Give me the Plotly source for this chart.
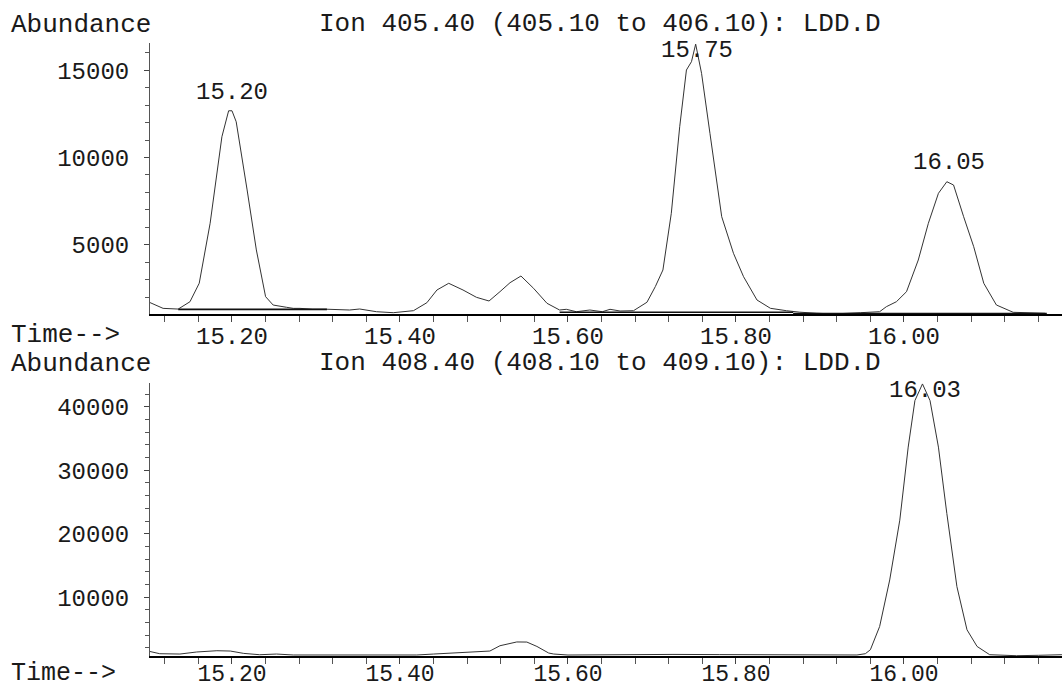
import plotly.graph_objects as go

# ---- Data ----
top_time = [15.102, 15.118, 15.136, 15.150, 15.161, 15.174, 15.188, 15.196, 15.200, 15.205,
            15.218, 15.229, 15.240, 15.249, 15.265, 15.273, 15.281, 15.296, 15.313, 15.340,
            15.352, 15.372, 15.392, 15.416, 15.432, 15.444, 15.458, 15.475, 15.491, 15.506,
            15.519, 15.531, 15.544, 15.559, 15.575, 15.590, 15.598, 15.610, 15.626, 15.641,
            15.650, 15.662, 15.678, 15.694, 15.704, 15.713, 15.723, 15.733, 15.741, 15.747,
            15.752, 15.759, 15.769, 15.783, 15.797, 15.809, 15.825, 15.841, 15.860, 15.876,
            15.896, 15.916, 15.948, 15.971, 15.979, 15.991, 16.003, 16.017, 16.029, 16.041,
            16.051, 16.059, 16.071, 16.083, 16.095, 16.110, 16.130, 16.154, 16.168]
top_abund = [1690, 1350, 1310, 1730, 2790, 6230, 11190, 12680, 12680, 12050,
             8140, 4700, 2020, 1540, 1410, 1350, 1350, 1300, 1300, 1256,
             1313, 1158, 1101, 1216, 1674, 2403, 2787, 2403, 1984, 1772,
             2305, 2821, 3205, 2500, 1640, 1256, 1296, 1158, 1256, 1158,
             1296, 1198, 1216, 1700, 2600, 3549, 6800, 11766, 15017, 15494,
             16500, 14828, 11388, 6606, 4507, 3165, 1829, 1353, 1216, 1130,
             1070, 1030, 1101, 1158, 1445, 1732, 2305, 4123, 6227, 7947,
             8612, 8423, 6606, 4886, 2787, 1543, 1124, 1067, 1067]

# integration baselines drawn under the peaks of the upper trace (start, end, level)
top_base_start = [15.136, 15.590, 15.868]
top_base_end = [15.313, 15.868, 16.170]
top_base_level = [1290, 1130, 1050]

bot_time = [15.102, 15.114, 15.138, 15.158, 15.182, 15.198, 15.214, 15.233, 15.253, 15.273,
            15.300, 15.340, 15.380, 15.420, 15.440, 15.460, 15.483, 15.507, 15.519, 15.539,
            15.551, 15.563, 15.577, 15.583, 15.600, 15.650, 15.725, 15.780, 15.844, 15.924,
            15.944, 15.954, 15.960, 15.971, 15.983, 15.995, 16.005, 16.013, 16.022, 16.031,
            16.041, 16.051, 16.063, 16.075, 16.087, 16.102, 16.134, 16.160, 16.188]
bot_abund = [1460, 1100, 1050, 1370, 1570, 1520, 1150, 940, 1050, 900,
             900, 900, 900, 900, 1050, 1210, 1410, 1520, 2355, 2950,
             2936, 2245, 1209, 1052, 895, 950, 989, 960, 942, 989,
             900, 1099, 1727, 5385, 12717, 22137, 33644, 40977, 43600, 40977,
             33644, 23189, 11665, 4867, 2245, 942, 785, 850, 942]

top_peak_times = [15.20, 15.753, 16.054]
top_peak_labels = ["15.20", "15.75", "16.05"]
top_peak_label_y = [13700, 16160, 9690]
bot_peak_times = [16.025]
bot_peak_labels = ["16.03"]
bot_peak_label_y = [42550]

top_title = "Ion 405.40 (405.10 to 406.10): LDD.D"
bot_title = "Ion 408.40 (408.10 to 409.10): LDD.D"

FONT = "Liberation Mono, Courier New, monospace"
INK = "#1a1a1a"

fig = go.Figure()
fig.add_trace(go.Scatter(x=top_time, y=top_abund, mode="lines",
                         line=dict(color="#333", width=1), xaxis="x", yaxis="y",
                         hoverinfo="skip", showlegend=False))
bx, by = [], []
for s, e, v in zip(top_base_start, top_base_end, top_base_level):
    bx += [s, e, None]
    by += [v, v, None]
fig.add_trace(go.Scatter(x=bx, y=by, mode="lines", line=dict(color="#111", width=1.6),
                         xaxis="x", yaxis="y", hoverinfo="skip", showlegend=False))
fig.add_trace(go.Scatter(x=bot_time, y=bot_abund, mode="lines",
                         line=dict(color="#333", width=1), xaxis="x2", yaxis="y2",
                         hoverinfo="skip", showlegend=False))

xrange = [15.1024, 16.1881]
common_x = dict(range=xrange, showline=True, linecolor="#000", linewidth=1.6,
                ticks="outside", ticklen=6, tickwidth=1, tickcolor="#444",
                tick0=15.2, dtick=0.2, tickformat=".2f", showgrid=False, zeroline=False,
                automargin=False,
                minor=dict(ticks="outside", ticklen=6, dtick=0.04, tick0=15.2,
                           tickcolor="#555", tickwidth=1, showgrid=False))
common_y = dict(showline=True, linecolor="#555", linewidth=1, ticks="outside",
                ticklen=5, tickcolor="#444", tickwidth=1, showgrid=False, zeroline=False,
                tickformat="d", automargin=False,
                tickfont=dict(family=FONT, size=24, color=INK), ticklabelstandoff=10)

fig.update_layout(
    width=1062, height=687,
    margin=dict(l=150, r=0, t=43, b=31),
    paper_bgcolor="white", plot_bgcolor="white",
    xaxis=dict(domain=[0, 1], anchor="y", ticklabelstandoff=-7,
               tickfont=dict(family=FONT, size=24, color=INK), **common_x),
    yaxis=dict(domain=[0.5579, 1], anchor="x", range=[1026, 16566], tick0=0, dtick=5000,
               minor=dict(ticks="outside", ticklen=4, dtick=1000, tick0=0,
                          tickcolor="#555", showgrid=False), **common_y),
    xaxis2=dict(domain=[0, 1], anchor="y2", ticklabelstandoff=-10,
                tickfont=dict(family=FONT, size=23, color=INK), **common_x),
    yaxis2=dict(domain=[0, 0.4449], anchor="x2", range=[740, 43700], tick0=0, dtick=10000,
                minor=dict(ticks="outside", ticklen=4, dtick=2000, tick0=0,
                           tickcolor="#555", showgrid=False), **common_y),
)

ann = []
def text(x, y, s, xanchor="left", size=26):
    ann.append(dict(xref="paper", yref="paper", x=(x - 150) / 912, y=(656 - y) / 613,
                    text=s, showarrow=False, xanchor=xanchor, yanchor="middle",
                    font=dict(family=FONT, size=size, color=INK)))

text(9, 25, "Abundance")
text(600, 24, top_title, xanchor="center")
text(9, 335, "Time-->")
text(9, 364, "Abundance")
text(600, 363, bot_title, xanchor="center")
text(9, 673, "Time-->", size=25)

for t, lab, yv in zip(top_peak_times, top_peak_labels, top_peak_label_y):
    ann.append(dict(xref="x", yref="y", x=t, y=yv, text=lab, showarrow=False,
                    xanchor="center", yanchor="middle",
                    font=dict(family=FONT, size=24, color=INK)))
for t, lab, yv in zip(bot_peak_times, bot_peak_labels, bot_peak_label_y):
    ann.append(dict(xref="x2", yref="y2", x=t, y=yv, text=lab, showarrow=False,
                    xanchor="center", yanchor="middle",
                    font=dict(family=FONT, size=24, color=INK)))

fig.update_layout(annotations=ann)
fig.write_html("out.html", config={"displayModeBar": False},
               post_script="document.body.style.margin='0px';document.body.style.padding='0px';")
